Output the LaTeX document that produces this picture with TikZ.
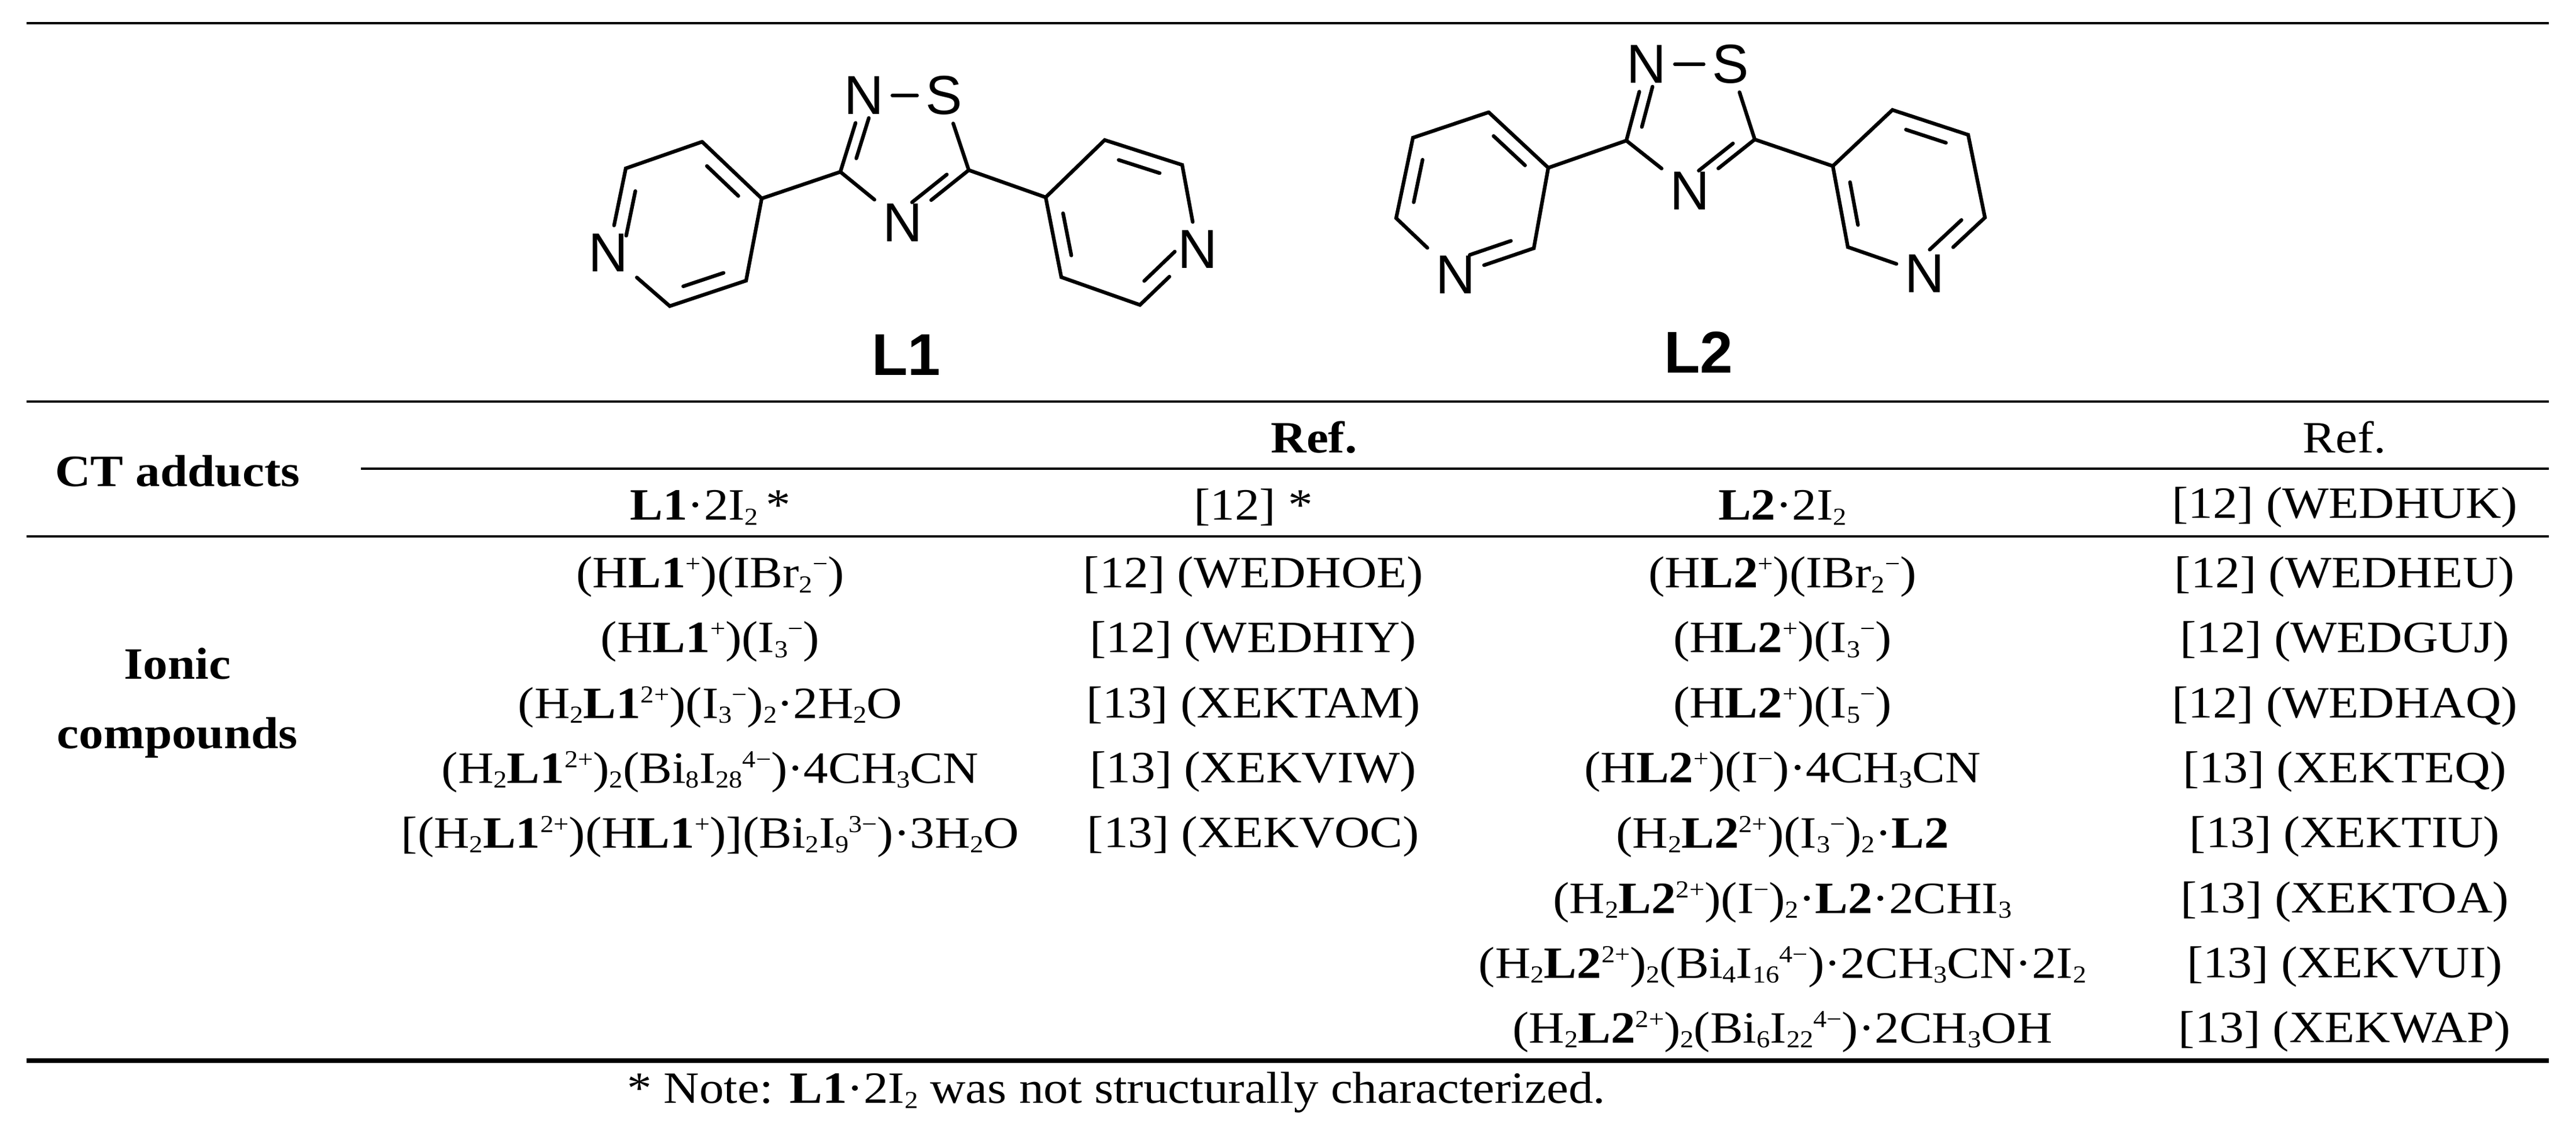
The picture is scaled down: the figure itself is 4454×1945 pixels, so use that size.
\documentclass[tikz,border=0pt]{standalone}
\usepackage{fontspec}
\setmainfont{Liberation Serif}[FakeStretch=1.1]
\newfontfamily\arialf{Liberation Sans}
\usetikzlibrary{positioning, calc}
\newcommand{\lo}[1]{\raisebox{-0.25ex}{\fontsize{12}{12}\selectfont #1}}
\newcommand{\hi}[1]{\raisebox{0.75ex}{\fontsize{12}{12}\selectfont #1}}
\newcommand{\mi}{−}
% inner line of a double bond, pulled toward the ring centre
\newcommand{\dbl}[3]{\draw[bond] ($($(#1)!.17!(#2)$)!.2!(#3)$) -- ($($(#1)!.83!(#2)$)!.2!(#3)$);}
\begin{document}
\begin{tikzpicture}[x=0.01cm, y=-0.01cm]
\tikzstyle{bond}=[line width=1.8pt, line cap=round]
\tikzstyle{atom}=[font=\arialf\fontsize{27}{27}\selectfont, inner sep=4pt]
\tikzstyle{lig}=[font=\arialf\bfseries\fontsize{29}{29}\selectfont]
\tikzstyle{txt}=[font=\fontsize{22}{26}\selectfont, inner sep=0pt]
\tikzstyle{head}=[txt, font=\bfseries\fontsize{22}{26}\selectfont, align=center]
\tikzstyle{rule}=[line width=1.3pt]
\useasboundingbox (0,0) rectangle (4454,1945);
% ligand L1
\coordinate (aT) at (1214,245); \coordinate (aUL) at (1082,291);
\node[atom] (aN) at (1052,437) {N};
\coordinate (aB) at (1158,529); \coordinate (aLR) at (1290,485); \coordinate (aUR) at (1317,343);
\coordinate (aC) at (1185,388);
\coordinate (aC3) at (1453,297); \coordinate (aC5) at (1675,294);
\node[atom] (aN2) at (1494,165) {N};
\node[atom] (aS) at (1632,165) {S};
\node[atom] (aN4) at (1561,385) {N};
\coordinate (aM) at (1563,270);
\coordinate (bA) at (1808,341); \coordinate (bT) at (1910,242); \coordinate (bUR) at (2044,285);
\node[atom] (bN) at (2071,431) {N};
\coordinate (bB) at (1971,527); \coordinate (bLL) at (1835,479);
\coordinate (bC) at (1940,385);
\draw[bond] (aT) -- (aUL) -- (aN) -- (aB) -- (aLR) -- (aUR) -- (aT);
\draw[bond] (aUR) -- (aC3) -- (aN2) (aN2) -- (aS) -- (aC5) -- (aN4) -- (aC3);
\draw[bond] (aC5) -- (bA) -- (bT) -- (bUR) -- (bN) -- (bB) -- (bLL) -- (bA);
\dbl{aT}{aUR}{aC} \dbl{aUL}{aN}{aC} \dbl{aB}{aLR}{aC}
\dbl{aC3}{aN2}{aM} \dbl{aC5}{aN4}{aM}
\dbl{bT}{bUR}{bC} \dbl{bN}{bB}{bC} \dbl{bLL}{bA}{bC}
\node[lig] (Lone) at (1567,613) {L1};
% ligand L2
\coordinate (cT) at (2574,194); \coordinate (cUL) at (2443,238); \coordinate (cL) at (2414,377);
\node[atom] (cN) at (2517,475) {N};
\coordinate (cLR) at (2652,429); \coordinate (cUR) at (2677,290);
\coordinate (cC) at (2546,334);
\coordinate (cC3) at (2812,243); \coordinate (cC5) at (3034,241);
\node[atom] (cN2) at (2847,111) {N};
\node[atom] (cS) at (2992,111) {S};
\node[atom] (cN4) at (2922,330) {N};
\coordinate (cM) at (2922,215);
\coordinate (dA) at (3169,287); \coordinate (dT) at (3272,190); \coordinate (dUR) at (3403,233);
\coordinate (dR) at (3432,376);
\node[atom] (dN) at (3328,473) {N};
\coordinate (dLL) at (3195,427);
\coordinate (dC) at (3300,331);
\draw[bond] (cT) -- (cUL) -- (cL) -- (cN) -- (cLR) -- (cUR) -- (cT);
\draw[bond] (cUR) -- (cC3) -- (cN2) (cN2) -- (cS) -- (cC5) -- (cN4) -- (cC3);
\draw[bond] (cC5) -- (dA) -- (dT) -- (dUR) -- (dR) -- (dN) -- (dLL) -- (dA);
\dbl{cT}{cUR}{cC} \dbl{cUL}{cL}{cC} \dbl{cN}{cLR}{cC}
\dbl{cC3}{cN2}{cM} \dbl{cC5}{cN4}{cM}
\dbl{dT}{dUR}{dC} \dbl{dR}{dN}{dC} \dbl{dLL}{dA}{dC}
\node[lig] (Ltwo) at (2937,609) {L2};
% rules
\coordinate (rTl) at (46,40); \coordinate (rTr) at (4407,40);
\coordinate (rMl) at (46,694); \coordinate (rMr) at (4407,694);
\coordinate (rPl) at (624,810); \coordinate (rPr) at (4407,810);
\coordinate (rCl) at (46,927); \coordinate (rCr) at (4407,927);
\coordinate (rBl) at (46,1833); \coordinate (rBr) at (4407,1833);
\draw[rule] (rTl) -- (rTr);
\draw[rule] (rMl) -- (rMr);
\draw[rule] (rPl) -- (rPr);
\draw[rule] (rCl) -- (rCr);
\draw[line width=2.3pt] (rBl) -- (rBr);
% header
\node[head] (ct) at (307,814) {CT adducts};
\node[head] (refa) at (2272,756) {Ref.};
\node[txt] (refb) at (4054,756) {Ref.};
\node[txt] (adda) at (1228,877) {\textbf{L1}·2I\lo{2}\,*};
\node[txt] (adra) at (2167,877) {[12] *};
\node[txt] (addb) at (3082,877) {\textbf{L2}·2I\lo{2}};
\node[txt] (adrb) at (4054,877) {[12] (WEDHUK)};
\node[head] (ionic) at (307,1215) {Ionic\\[8pt]compounds};
% L1 salts
\node[txt] (sa1) at (1228,997) {(H\textbf{L1}\hi{+})(IBr\lo{2}\hi{\mi})};
\node[txt] (sa2) at (1228,1109) {(H\textbf{L1}\hi{+})(I\lo{3}\hi{\mi})};
\node[txt] (sa3) at (1228,1222) {(H\lo{2}\textbf{L1}\hi{2+})(I\lo{3}\hi{\mi})\lo{2}·2H\lo{2}O};
\node[txt] (sa4) at (1228,1334) {(H\lo{2}\textbf{L1}\hi{2+})\lo{2}(Bi\lo{8}I\lo{28}\hi{4\mi})·4CH\lo{3}CN};
\node[txt] (sa5) at (1228,1446) {[(H\lo{2}\textbf{L1}\hi{2+})(H\textbf{L1}\hi{+})](Bi\lo{2}I\lo{9}\hi{3\mi})·3H\lo{2}O};
\node[txt] (ra1) at (2167,997) {[12] (WEDHOE)};
\node[txt] (ra2) at (2167,1109) {[12] (WEDHIY)};
\node[txt] (ra3) at (2167,1222) {[13] (XEKTAM)};
\node[txt] (ra4) at (2167,1334) {[13] (XEKVIW)};
\node[txt] (ra5) at (2167,1446) {[13] (XEKVOC)};
% L2 salts
\node[txt] (sb1) at (3082,997) {(H\textbf{L2}\hi{+})(IBr\lo{2}\hi{\mi})};
\node[txt] (sb2) at (3082,1109) {(H\textbf{L2}\hi{+})(I\lo{3}\hi{\mi})};
\node[txt] (sb3) at (3082,1222) {(H\textbf{L2}\hi{+})(I\lo{5}\hi{\mi})};
\node[txt] (sb4) at (3082,1334) {(H\textbf{L2}\hi{+})(I\hi{\mi})·4CH\lo{3}CN};
\node[txt] (sb5) at (3082,1446) {(H\lo{2}\textbf{L2}\hi{2+})(I\lo{3}\hi{\mi})\lo{2}·\textbf{L2}};
\node[txt] (sb6) at (3082,1559) {(H\lo{2}\textbf{L2}\hi{2+})(I\hi{\mi})\lo{2}·\textbf{L2}·2CHI\lo{3}};
\node[txt] (sb7) at (3082,1671) {(H\lo{2}\textbf{L2}\hi{2+})\lo{2}(Bi\lo{4}I\lo{16}\hi{4\mi})·2CH\lo{3}CN·2I\lo{2}};
\node[txt] (sb8) at (3082,1783) {(H\lo{2}\textbf{L2}\hi{2+})\lo{2}(Bi\lo{6}I\lo{22}\hi{4\mi})·2CH\lo{3}OH};
\node[txt] (rb1) at (4054,997) {[12] (WEDHEU)};
\node[txt] (rb2) at (4054,1109) {[12] (WEDGUJ)};
\node[txt] (rb3) at (4054,1222) {[12] (WEDHAQ)};
\node[txt] (rb4) at (4054,1334) {[13] (XEKTEQ)};
\node[txt] (rb5) at (4054,1446) {[13] (XEKTIU)};
\node[txt] (rb6) at (4054,1559) {[13] (XEKTOA)};
\node[txt] (rb7) at (4054,1671) {[13] (XEKVUI)};
\node[txt] (rb8) at (4054,1783) {[13] (XEKWAP)};
\node[txt] (note) at (1930,1888) {* Note: \textbf{L1}·2I\lo{2} was not structurally characterized.};
\end{tikzpicture}
\end{document}
